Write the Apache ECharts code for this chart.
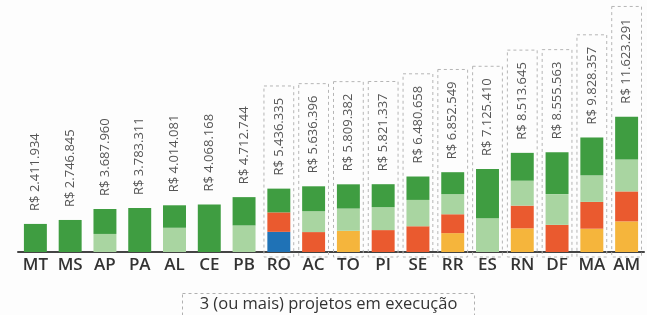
<!DOCTYPE html>
<html>
<head>
<meta charset="utf-8">
<script src="https://cdn.jsdelivr.net/npm/echarts@6/dist/echarts.min.js"></script>
<style>
html,body{margin:0;padding:0;background:#fdfdfd;}
#chart{width:647px;height:315px;}
</style>
</head>
<body>
<div id="chart"></div>
<script>
// estados e total investido (R$)
let estados=['MT','MS','AP','PA','AL','CE','PB','RO','AC','TO','PI','SE','RR','ES','RN','DF','MA','AM'];
let totais=[2411934,2746845,3687960,3783311,4014081,4068168,4712744,5436335,5636396,5809382,5821337,6480658,6852549,7125410,8513645,8555563,9828357,11623291];

// valor de cada projeto, em milhoes
let azul    =[0,0,0,0,0,0,0,1.73,0,0,0,0,0,0,0,0,0,0];
let amarelo =[0,0,0,0,0,0,0,0,0,1.82,0,0,1.62,0,2.03,0,2.00,2.63];
let vermelho=[0,0,0,0,0,0,0,1.67,1.71,0,1.88,2.21,1.62,0,1.95,2.33,2.30,2.57];
let verdeClaro=[0,0,1.55,0,2.08,0,2.28,0,1.79,1.91,1.97,2.26,1.73,2.90,2.14,2.64,2.28,2.74];
let verdeEscuro=[2.41,2.75,2.14,3.78,1.93,4.07,2.43,2.04,2.14,2.08,1.97,2.01,1.88,4.23,2.39,3.59,3.25,3.68];

let legendaTexto='3 (ou mais) projetos em execução';

function formatReal(v){
	return 'R$ '+String(v).replace(/\B(?=(\d{3})+(?!\d))/g,'.');
}

let labelFont='13px "Open Sans"';
let labelGap=13;
function textWidth(txt,font){
	let ctx=document.createElement('canvas').getContext('2d');
	ctx.font=font;
	return ctx.measureText(txt).width;
}

function nProjetos(i){
	let n=0;
	[azul,amarelo,vermelho,verdeClaro,verdeEscuro].forEach(function(s){ if(s[i]>0) n++; });
	return n;
}

// caixas tracejadas a partir do primeiro estado com 3 projetos
let caixas=[];
let inicio=-1;
for(let i=0;i<estados.length;i++){
	if(inicio<0&&nProjetos(i)>=3) inicio=i;
	if(inicio>=0) caixas.push([i,totais[i]/1e6]);
}

function serieBarra(nome,dados,cor){
	return {
		name:nome,type:'bar',stack:'total',barWidth:'66%',
		data:dados.map(function(v){ return v>0?v:null; }),
		itemStyle:{color:cor},
		emphasis:{disabled:true}
	};
}

let chart=echarts.init(document.getElementById('chart'));
let topo=serieBarra('p5',verdeEscuro,'#3f9d41');
topo.label={
	show:true,position:'top',rotate:90,align:'left',verticalAlign:'middle',
	distance:labelGap,color:'#555',fontFamily:'Open Sans',fontSize:13,
	formatter:function(p){ return formatReal(totais[p.dataIndex]); }
};

chart.setOption({
	animation:false,
	backgroundColor:'#fdfdfd',
	grid:{left:18,right:3,top:19,bottom:63},
	xAxis:{
		type:'category',data:estados,
		axisLine:{lineStyle:{color:'#444',width:2}},
		axisTick:{show:false},
		axisLabel:{color:'#333',fontFamily:'Open Sans',fontWeight:600,fontSize:17,margin:5,interval:0}
	},
	yAxis:{type:'value',min:0,max:20,show:false,splitLine:{show:false}},
	series:[
		{
			type:'custom',silent:true,z:1,data:caixas,
			renderItem:function(params,api){
				let i=api.value(0),total=api.value(1);
				let p=api.coord([i,total]);
				let b=api.coord([i,0]);
				let w=api.size([1,0])[0]-5;
				let tw=textWidth(formatReal(totais[i]),labelFont);
				let y0=p[1]-labelGap-tw-12;
				return {
					type:'rect',
					shape:{x:p[0]-w/2,y:y0,width:w,height:b[1]+5-y0},
					style:{fill:'none',stroke:'#b5b5b5',lineWidth:1,lineDash:[3,3]}
				};
			}
		},
		serieBarra('p1',azul,'#1f72b6'),
		serieBarra('p2',amarelo,'#f5b53c'),
		serieBarra('p3',vermelho,'#ea5a2f'),
		serieBarra('p4',verdeClaro,'#a9d5a1'),
		topo
	],
	graphic:[{
		type:'group',left:180,top:291,
		children:[
			{type:'rect',shape:{x:0,y:0,width:292,height:34},style:{fill:'none',stroke:'#b0b0b0',lineWidth:1,lineDash:[3,3]}},
			{type:'text',x:146,y:2,style:{text:legendaTexto,fill:'#333',font:'16.5px "Open Sans"',textAlign:'center',textVerticalAlign:'top'}}
		]
	}]
});
</script>
</body>
</html>
